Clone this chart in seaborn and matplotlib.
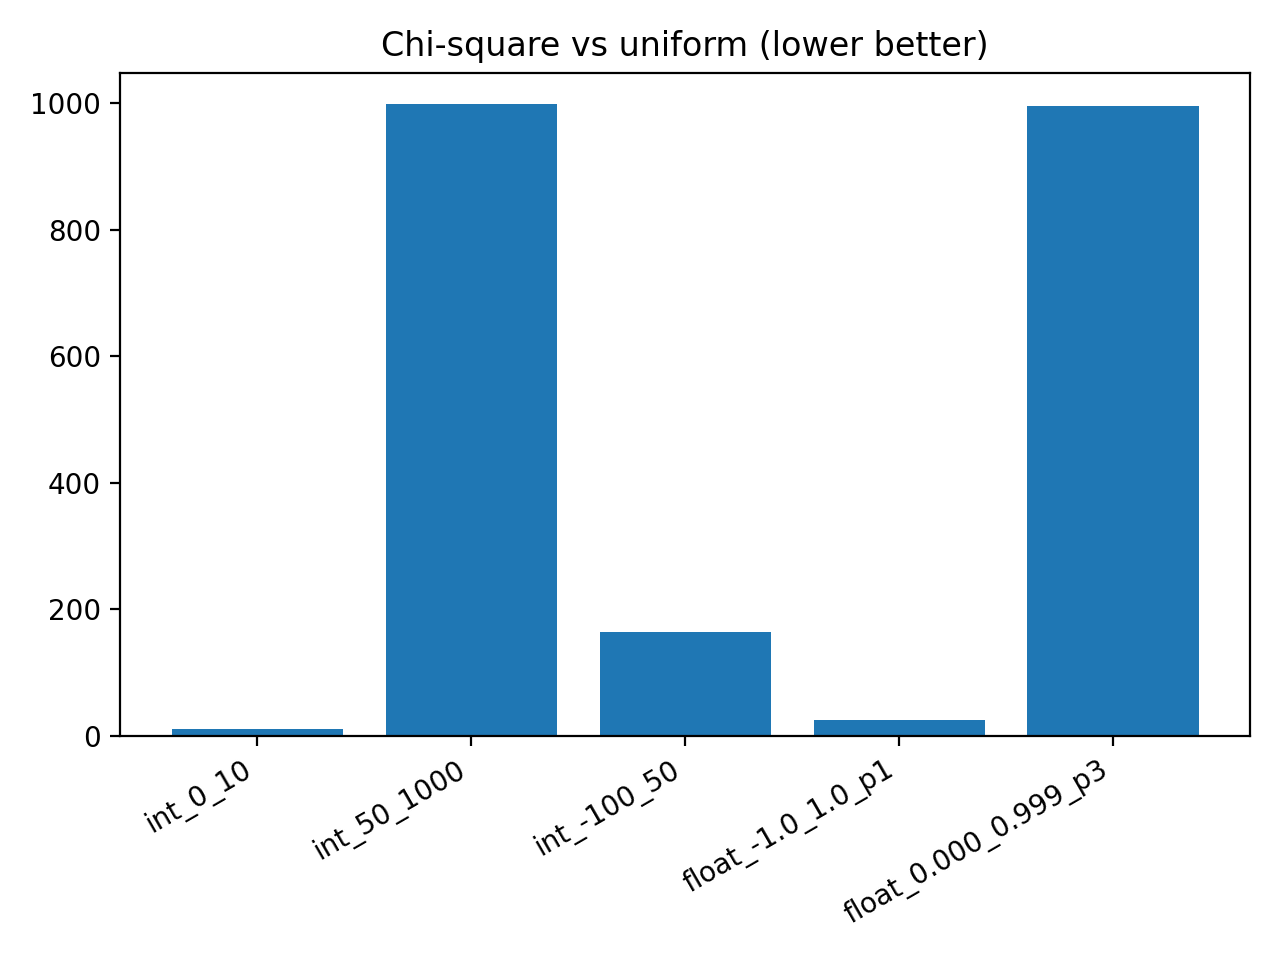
import matplotlib
matplotlib.use('Agg')
import matplotlib.pyplot as plt
import seaborn as sns
import pandas as pd

# ── Data ─────────────────────────────────────────────────────────────────────
CASES  = ['int_0_10', 'int_50_1000', 'int_-100_50',
          'float_-1.0_1.0_p1', 'float_0.000_0.999_p3']
CHISQ  = [11, 998, 165, 25, 995]

df = pd.DataFrame({'case': CASES, 'chi2': CHISQ})

# ── Plot ─────────────────────────────────────────────────────────────────────
fig, ax = plt.subplots(figsize=(6.4, 4.8), dpi=200)
sns.barplot(data=df, x='case', y='chi2', color='#1f77b4', saturation=1,
            width=0.8, ax=ax)
ax.set_xlim(-0.64, len(CASES) - 0.36)
ax.set_title('Chi-square vs uniform (lower better)')
ax.set_xlabel(''); ax.set_ylabel('')
plt.xticks(rotation=30, ha='right')
plt.tight_layout()
plt.savefig('out.png', dpi=200)
plt.close()
